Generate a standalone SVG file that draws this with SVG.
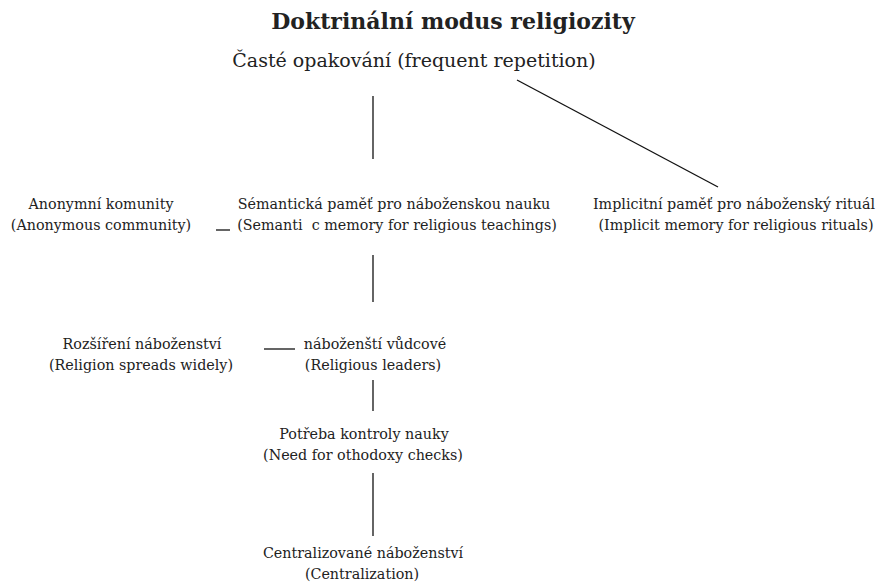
<svg xmlns="http://www.w3.org/2000/svg" width="878" height="584" viewBox="0 0 878 584">
<style>
text{font-family:"DejaVu Serif","Liberation Serif",serif;fill:#222;text-anchor:middle}
.t{font-size:22px;font-weight:bold}
.h{font-size:19px}
.n{font-size:14.3px}
.c line{stroke:#111;stroke-width:1.3}
</style>
<rect width="878" height="584" fill="#fff"/>
<g id="title"><text class="t" x="453" y="29">Doktrinální modus religiozity</text></g>
<g id="repetition"><text class="h" x="414" y="67">Časté opakování (frequent repetition)</text></g>
<g id="anonymous"><text class="n" x="101" y="209">Anonymní komunity</text><text class="n" x="101" y="230">(Anonymous community)</text></g>
<g id="semantic"><text class="n" x="394" y="209">Sémantická paměť pro náboženskou nauku</text><text class="n" x="397" y="230">(Semanti&#160; c memory for religious teachings)</text></g>
<g id="implicit"><text class="n" x="734" y="209">Implicitní paměť pro náboženský rituál</text><text class="n" x="736" y="230">(Implicit memory for religious rituals)</text></g>
<g id="spread"><text class="n" x="142" y="349">Rozšíření náboženství</text><text class="n" x="141" y="370">(Religion spreads widely)</text></g>
<g id="leaders"><text class="n" x="375" y="349">náboženští vůdcové</text><text class="n" x="373" y="370">(Religious leaders)</text></g>
<g id="orthodoxy"><text class="n" x="364" y="439">Potřeba kontroly nauky</text><text class="n" x="363" y="460">(Need for othodoxy checks)</text></g>
<g id="central"><text class="n" x="363" y="558">Centralizované náboženství</text><text class="n" x="362" y="579">(Centralization)</text></g>
<g class="c" id="connectors">
<line x1="373" y1="96" x2="373" y2="159"/>
<line x1="517" y1="80" x2="718" y2="187"/>
<line x1="216" y1="230" x2="230" y2="230"/>
<line x1="373" y1="255" x2="373" y2="302"/>
<line x1="264" y1="349" x2="295" y2="349"/>
<line x1="373" y1="380" x2="373" y2="411"/>
<line x1="373" y1="473" x2="373" y2="536"/>
</g>
</svg>
